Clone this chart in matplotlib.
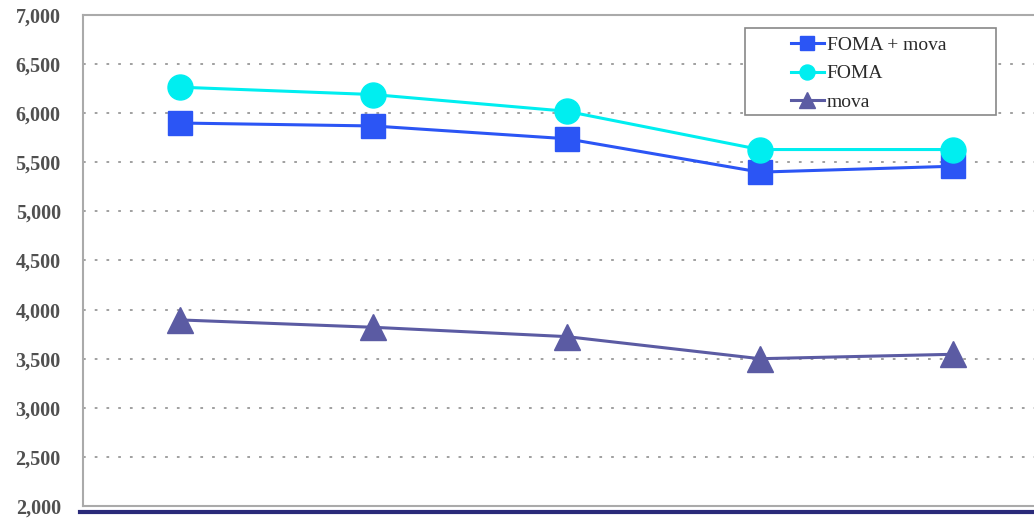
import matplotlib
matplotlib.use('Agg')
import matplotlib.pyplot as plt
from matplotlib.lines import Line2D
from matplotlib.patches import Rectangle

# Chart data
categories = ['1', '2', '3', '4', '5']
foma_mova = [5900, 5870, 5740, 5400, 5460]
foma = [6265, 6190, 6020, 5630, 5630]
mova = [3895, 3820, 3725, 3500, 3545]
yticks = list(range(2000, 7001, 500))

plt.rcParams['font.family'] = ['Liberation Serif', 'DejaVu Serif']

fig = plt.figure(figsize=(10.34, 5.18), dpi=100)
ax = fig.add_axes([83 / 1034, 12 / 518, 967 / 1034, 491 / 518])

x = list(range(len(categories)))
ax.plot(x, foma_mova, color='#2b55f5', marker='s', markersize=17, lw=2.2,
        label='FOMA + mova', zorder=3)
ax.plot(x, foma, color='#00eef0', marker='o', markersize=18, lw=2.2,
        label='FOMA', zorder=4)
ax.plot(x, mova, color='#5b5ba3', marker='^', markersize=19, lw=2.2,
        label='mova', zorder=3)

ax.set_xlim(-0.5, len(categories) - 0.5)
ax.set_ylim(2000, 7000)
ax.set_yticks(yticks)
ax.set_yticklabels([f'{v:,}' for v in yticks], fontsize=14.5,
                   fontweight='bold', color='#505050')
ax.set_xticks([])
ax.tick_params(axis='y', length=0, pad=16)

ax.yaxis.grid(True, linestyle=(0, (1.5, 5)), color='#999999', lw=1.3)
ax.set_axisbelow(True)
for side in ['left', 'top', 'bottom']:
    ax.spines[side].set_color('#aaaaaa')
    ax.spines[side].set_linewidth(1.5)
ax.spines['right'].set_visible(False)

# dark baseline below the plot area
fig.add_artist(Line2D([80 / 1034, 1.0], [1 - 512 / 518, 1 - 512 / 518],
                      transform=fig.transFigure, color='#2a2a7a', lw=3))

# legend box drawn separately so it can be wider than its contents
ax.add_patch(Rectangle((745 / 1034, 1 - 115 / 518), 251 / 1034, 87 / 518,
                       transform=fig.transFigure, facecolor='white',
                       edgecolor='#888888', lw=1.2, zorder=5, clip_on=False))
leg = ax.legend(loc='upper left', bbox_to_anchor=(787 / 1034, 1 - 32 / 518),
                bbox_transform=fig.transFigure, fontsize=14, markerscale=0.6,
                handlelength=1.7, handletextpad=0.15, borderpad=0.2,
                labelspacing=0.58, frameon=False, borderaxespad=0)
leg.set_zorder(6)
for t in leg.get_texts():
    t.set_color('#2a2a2a')

fig.savefig('out.png', dpi=100)
